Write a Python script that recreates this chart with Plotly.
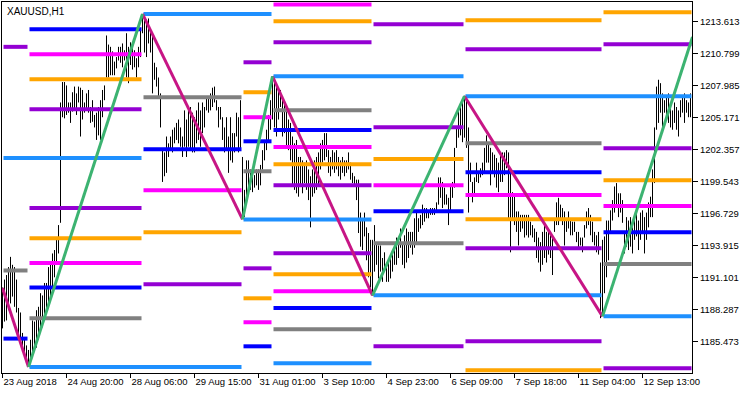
import plotly.graph_objects as go

# ---------------- data ----------------
SYMBOL = "XAUUSD,H1"

# hourly bars (index 0..344): highs and lows
HIGHS = [
1190.2,1190.9,1191.3,1192.0,1192.9,1192.2,1192.0,1190.9,1188.4,1188.0,
1186.2,1185.8,1185.1,1184.7,1185.6,1187.3,1187.2,1188.2,1188.5,1189.7,
1189.5,1190.6,1190.6,1192.0,1192.4,1193.2,1193.5,1194.4,1195.7,1206.5,
1208.3,1208.3,1208.0,1206.5,1206.5,1207.4,1207.9,1207.3,1207.9,1207.8,
1207.6,1206.5,1207.3,1207.6,1206.1,1206.7,1205.4,1205.6,1206.1,1206.7,
1207.6,1208.0,1212.4,1211.6,1211.4,1211.0,1210.1,1210.5,1211.4,1211.4,
1211.7,1211.1,1212.6,1211.4,1211.8,1211.7,1211.1,1210.4,1211.4,1212.9,
1214.3,1214.2,1213.8,1213.9,1212.9,1212.6,1210.0,1209.6,1208.7,1207.3,
1202.3,1202.1,1203.5,1202.9,1203.5,1204.1,1204.3,1204.7,1205.0,1204.3,
1203.5,1205.8,1205.0,1206.1,1206.1,1205.6,1205.2,1205.8,1206.5,1205.8,
1206.5,1206.1,1207.0,1207.0,1207.3,1207.8,1207.9,1206.7,1206.1,1206.1,
1205.2,1204.3,1205.2,1203.5,1205.2,1203.8,1203.8,1205.6,1205.2,1206.7,
1201.7,1198.8,1201.4,1201.4,1200.6,1200.4,1200.1,1200.6,1200.6,1201.0,
1202.3,1203.2,1204.1,1205.4,1206.7,1208.8,1208.5,1207.9,1207.6,1207.6,
1207.0,1206.5,1205.8,1205.0,1204.7,1203.5,1202.9,1203.2,1201.7,1201.7,
1201.4,1201.2,1201.4,1200.6,1200.0,1200.6,1201.4,1201.7,1202.1,1202.9,
1203.2,1203.8,1203.8,1202.3,1201.7,1202.3,1202.1,1202.3,1201.7,1201.4,
1201.7,1201.4,1201.4,1202.1,1201.2,1200.3,1200.0,1199.7,1199.7,1196.8,
1196.1,1196.8,1195.5,1195.0,1194.4,1194.4,1195.7,1194.2,1193.9,1193.9,
1192.8,1193.3,1192.4,1192.4,1192.8,1193.3,1193.9,1194.6,1194.6,1195.4,
1194.2,1194.8,1195.4,1195.1,1195.1,1195.1,1196.3,1196.9,1196.3,1196.6,
1197.5,1197.2,1197.2,1196.9,1197.2,1197.2,1197.2,1197.7,1199.9,1199.9,
1199.5,1199.0,1198.4,1198.1,1199.2,1199.5,1202.5,1204.3,1205.7,1206.3,
1206.5,1207.1,1206.9,1204.3,1201.2,1199.5,1199.9,1201.2,1200.4,1200.7,
1201.2,1202.5,1203.6,1202.8,1202.5,1202.1,1201.9,1201.6,1201.2,1201.9,
1202.1,1202.1,1202.3,1202.1,1200.7,1198.6,1198.4,1196.9,1196.9,1196.6,
1196.6,1196.6,1196.6,1196.6,1196.0,1195.7,1195.4,1195.1,1194.6,1194.2,
1195.1,1195.7,1195.1,1195.1,1194.8,1194.6,1196.3,1197.7,1198.1,1197.5,
1197.2,1196.9,1196.3,1196.9,1196.3,1196.0,1196.0,1195.1,1195.1,1194.6,
1194.6,1195.7,1196.9,1197.2,1196.6,1196.0,1195.1,1194.8,1195.1,1192.4,
1194.4,1194.7,1196.1,1196.1,1197.0,1197.9,1199.1,1199.4,1198.5,1198.5,
1197.9,1195.0,1196.4,1196.1,1196.4,1195.5,1196.4,1197.3,1196.1,1196.8,
1197.0,1196.4,1196.8,1197.7,1198.2,1200.6,1204.3,1207.9,1208.5,1208.2,
1207.3,1206.7,1207.0,1207.3,1206.5,1205.8,1206.5,1206.1,1205.8,1206.7,
1207.0,1207.3,1206.7,1206.5,1207.3,
]
LOWS = [
1186.6,1187.2,1187.3,1188.2,1188.8,1189.4,1188.5,1188.0,1185.8,1185.6,
1185.0,1184.5,1183.8,1183.2,1183.5,1184.1,1184.7,1184.9,1185.6,1186.2,
1186.7,1187.5,1188.0,1188.5,1189.4,1190.2,1191.1,1192.4,1193.2,1195.9,
1205.2,1205.1,1205.4,1205.6,1204.7,1205.7,1206.0,1205.4,1206.5,1203.5,
1205.0,1205.6,1206.0,1205.6,1204.7,1204.8,1204.3,1203.2,1203.6,1203.2,
1205.2,1206.7,1208.7,1208.7,1208.9,1208.9,1208.9,1209.5,1210.2,1210.0,
1209.6,1210.2,1208.7,1208.2,1209.8,1209.4,1209.6,1208.7,1209.6,1210.5,
1212.6,1210.9,1210.5,1211.7,1210.9,1207.3,1208.5,1207.9,1207.0,1204.3,
1199.5,1200.0,1200.3,1201.7,1202.3,1202.1,1202.9,1203.2,1202.9,1202.6,
1201.7,1202.6,1201.7,1202.6,1202.3,1202.1,1202.1,1202.9,1203.2,1202.6,
1203.8,1204.3,1205.8,1205.6,1205.8,1206.1,1206.5,1205.8,1204.3,1205.0,
1203.2,1202.1,1202.3,1200.3,1201.4,1201.2,1202.1,1203.5,1202.1,1202.3,
1196.3,1196.4,1197.9,1198.8,1198.8,1198.6,1199.0,1199.2,1198.8,1199.2,
1200.6,1201.4,1202.3,1203.0,1204.1,1205.0,1204.3,1203.5,1205.0,1206.1,
1203.5,1203.8,1202.6,1202.3,1201.4,1199.1,1198.8,1198.5,1198.2,1199.1,
1198.5,1199.4,1198.8,1197.9,1195.5,1198.2,1198.5,1198.8,1199.1,1200.6,
1201.2,1201.4,1201.7,1200.3,1200.0,1200.6,1200.3,1200.6,1200.0,1199.7,
1200.3,1200.0,1200.3,1200.6,1199.7,1199.4,1199.1,1197.9,1195.0,1193.8,
1193.5,1194.7,1192.6,1191.1,1190.2,1189.5,1191.6,1192.2,1191.0,1191.6,
1190.7,1191.6,1190.7,1190.7,1191.0,1191.6,1192.2,1192.2,1192.8,1193.7,
1192.2,1191.9,1192.4,1192.8,1193.7,1193.1,1193.7,1194.2,1195.1,1195.4,
1195.7,1196.0,1196.3,1196.3,1196.6,1196.6,1196.6,1196.9,1197.5,1198.1,
1197.2,1197.5,1197.5,1195.7,1196.9,1198.1,1199.0,1202.5,1203.4,1203.6,
1203.0,1203.4,1202.5,1196.8,1199.5,1197.7,1198.4,1199.5,1199.4,1199.9,
1200.1,1200.4,1201.2,1201.2,1199.2,1200.4,1199.9,1199.0,1198.6,1199.5,
1199.5,1200.1,1200.7,1196.3,1193.3,1196.3,1195.7,1195.1,1193.9,1195.1,
1195.4,1194.6,1194.8,1194.6,1194.8,1194.6,1194.2,1192.8,1192.4,1191.6,
1192.2,1192.8,1192.4,1193.1,1192.8,1191.3,1195.1,1195.7,1195.7,1196.3,
1195.7,1193.9,1195.1,1195.4,1194.8,1194.8,1195.1,1194.2,1193.7,1193.9,
1193.3,1194.6,1195.4,1195.7,1194.8,1194.2,1193.9,1193.3,1193.1,1187.5,
1187.7,1189.7,1191.1,1192.6,1195.0,1196.1,1196.8,1197.3,1196.4,1196.8,
1195.9,1193.2,1193.8,1193.5,1193.8,1193.2,1194.4,1194.7,1193.5,1194.4,
1195.0,1193.2,1194.4,1195.5,1196.4,1196.4,1199.4,1204.1,1204.7,1205.6,
1204.3,1205.6,1205.0,1204.7,1204.3,1204.1,1204.7,1204.1,1203.5,1205.2,
1205.6,1204.7,1205.6,1205.2,1205.2,
]

# x-axis labels (every 32 bars)
TICK_BARS = [0, 32, 64, 96, 128, 160, 192, 224, 256, 288, 320]
TICK_TEXT = ["23 Aug 2018", "24 Aug 20:00", "28 Aug 06:00", "29 Aug 15:00",
             "31 Aug 01:00", "3 Sep 10:00", "4 Sep 23:00", "6 Sep 09:00",
             "7 Sep 18:00", "11 Sep 04:00", "12 Sep 13:00"]
PRICE_TICKS = [1185.473, 1188.287, 1191.101, 1193.915, 1196.729, 1199.543,
               1202.357, 1205.171, 1207.985, 1210.799, 1213.613]

# zigzag pivots
PIVOT_BARS = [0, 13, 70, 120, 135, 185, 231, 300, 345]
PIVOT_PRICES = [1190.15, 1183.2, 1214.3, 1196.2, 1208.81, 1189.51, 1207.05, 1187.66, 1212.27]

# pivot levels, each spans two zigzag legs: (start bar, end bar, price)
PIVOT_LEVELS = [(0, 70, 1201.6), (13, 120, 1183.2), (70, 135, 1214.3),
                (120, 185, 1196.2), (135, 231, 1208.81), (185, 300, 1189.51),
                (231, 345, 1207.05), (300, 345, 1187.66)]

# levels per zigzag leg (leg k runs PIVOT_BARS[k] .. PIVOT_BARS[k+1])
LEG_LEVELS = [
    [("purple", 1211.4), ("gray", 1191.7), ("blue", 1185.7)],
    [("blue", 1212.95), ("magenta", 1210.75), ("orange", 1208.54), ("purple", 1205.9),
     ("purple", 1197.2), ("orange", 1194.53), ("magenta", 1192.37), ("blue", 1190.2),
     ("gray", 1187.5)],
    [("gray", 1206.96), ("blue", 1202.37), ("magenta", 1198.77), ("orange", 1195.07),
     ("purple", 1190.48)],
    [("purple", 1210.04), ("orange", 1207.4), ("magenta", 1205.2), ("blue", 1203.08),
     ("gray", 1200.44), ("purple", 1191.89), ("orange", 1189.25), ("magenta", 1187.14),
     ("blue", 1185.02)],
    [("magenta", 1215.12), ("orange", 1213.65), ("purple", 1211.8), ("gray", 1205.81),
     ("blue", 1204.08), ("magenta", 1202.58), ("orange", 1201.05), ("purple", 1199.2),
     ("purple", 1193.21), ("orange", 1191.36), ("magenta", 1189.87), ("blue", 1188.4),
     ("gray", 1186.52), ("dodger", 1183.52)],
    [("purple", 1213.39), ("purple", 1204.31), ("orange", 1201.52), ("magenta", 1199.2),
     ("blue", 1196.91), ("gray", 1194.1), ("purple", 1185.02)],
    [("orange", 1213.74), ("purple", 1211.19), ("gray", 1202.9), ("blue", 1200.35),
     ("magenta", 1198.35), ("orange", 1196.21), ("purple", 1193.66), ("purple", 1185.46),
     ("orange", 1182.91)],
    [("orange", 1214.45), ("purple", 1211.63), ("purple", 1202.47), ("orange", 1199.65),
     ("magenta", 1197.38), ("blue", 1195.07), ("gray", 1192.27), ("purple", 1183.08)],
]

# ---------------- styles ----------------
COLORS = {"purple": "#9400D3", "blue": "#0000FF", "magenta": "#FF00FF",
          "orange": "#FFA500", "gray": "#808080", "dodger": "#1E90FF"}
UP_COLOR = "#3CB371"
DOWN_COLOR = "#C71585"
FONT = "Liberation Sans, Arial, sans-serif"

fig = go.Figure()

# bars
bx, by = [], []
for i, (h, l) in enumerate(zip(HIGHS, LOWS)):
    bx += [i, i, None]
    by += [l, h, None]
fig.add_trace(go.Scatter(x=bx, y=by, mode="lines", line=dict(color="black", width=1),
                         hoverinfo="skip", showlegend=False))

# levels grouped by colour
segs = {k: ([], []) for k in COLORS}
for k in range(len(LEG_LEVELS)):
    x0, x1 = PIVOT_BARS[k], PIVOT_BARS[k + 1]
    for kind, price in LEG_LEVELS[k]:
        segs[kind][0].extend([x0 + 0.5, x1 - 0.5, None])
        segs[kind][1].extend([price, price, None])
for x0, x1, price in PIVOT_LEVELS:
    segs["dodger"][0].extend([x0 + 0.5, x1 - 0.5, None])
    segs["dodger"][1].extend([price, price, None])
for kind, (xs, ys) in segs.items():
    fig.add_trace(go.Scatter(x=xs, y=ys, mode="lines",
                             line=dict(color=COLORS[kind], width=4),
                             hoverinfo="skip", showlegend=False))

# zigzag
ux, uy, dx, dy = [], [], [], []
for k in range(len(PIVOT_BARS) - 1):
    xa, xb = PIVOT_BARS[k], PIVOT_BARS[k + 1]
    ya, yb = PIVOT_PRICES[k], PIVOT_PRICES[k + 1]
    if yb > ya:
        ux += [xa, xb, None]; uy += [ya, yb, None]
    else:
        dx += [xa, xb, None]; dy += [ya, yb, None]
fig.add_trace(go.Scatter(x=dx, y=dy, mode="lines", line=dict(color=DOWN_COLOR, width=3),
                         hoverinfo="skip", showlegend=False))
fig.add_trace(go.Scatter(x=ux, y=uy, mode="lines", line=dict(color=UP_COLOR, width=3),
                         hoverinfo="skip", showlegend=False))

fig.update_layout(
    width=750, height=394,
    margin=dict(l=2, r=58, t=2, b=21),
    paper_bgcolor="white", plot_bgcolor="white",
    font=dict(family=FONT, size=9, color="black"),
    showlegend=False,
    xaxis=dict(range=[-0.25, 344.75], showgrid=False, zeroline=False, automargin=False,
               showline=True, linecolor="black", linewidth=1, mirror=True,
               tickmode="array", tickvals=TICK_BARS, ticktext=TICK_TEXT,
               ticks="outside", ticklen=4, tickcolor="black", tickangle=0,
               ticklabelposition="outside right",
               tickfont=dict(family=FONT, size=9.5, color="black")),
    yaxis=dict(range=[1182.67, 1215.35], side="right", showgrid=False, zeroline=False,
               automargin=False,
               showline=True, linecolor="black", linewidth=1, mirror=True,
               tickmode="array", tickvals=PRICE_TICKS,
               ticktext=[f"{v:.3f}" for v in PRICE_TICKS],
               ticks="outside", ticklen=5, tickcolor="black",
               tickfont=dict(family=FONT, size=9.5, color="black")),
    annotations=[dict(text=SYMBOL, xref="paper", yref="paper", x=0, y=1,
                      xanchor="left", yanchor="top", xshift=3, yshift=-2,
                      showarrow=False, font=dict(family=FONT, size=10, color="black"))],
)

fig.write_html("out.html")
